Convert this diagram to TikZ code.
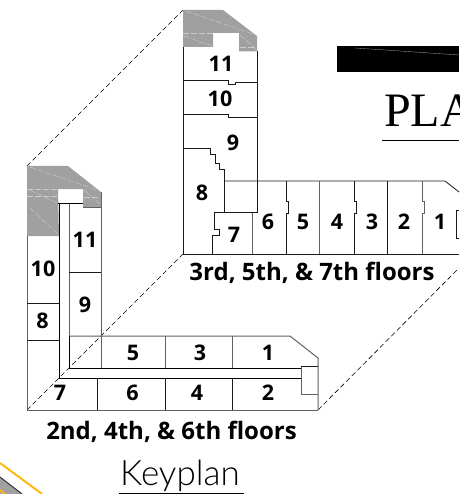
\documentclass[tikz,border=0pt]{standalone}
\usepackage{fontspec}
\setmainfont{Open Sans}
\newfontfamily\serifplan{Liberation Serif}
\newfontfamily\keyplan{Lato}[UprightFont=* Light]
\usepackage{tikz}
\usetikzlibrary{positioning}
\definecolor{roof}{HTML}{A0A0A0}
\definecolor{amber}{HTML}{FDB813}
\tikzstyle{wall}=[draw=black!90, line width=0.8pt]
\tikzstyle{gwall}=[draw=black!62, line width=1pt]
\tikzstyle{bwall}=[draw=black, line width=0.8pt]
\tikzstyle{guide}=[draw=black, line width=0.6pt, dash pattern=on 5pt off 3pt]
\tikzstyle{roofline}=[draw=white!45!roof, line width=0.4pt, dash pattern=on 6pt off 2pt]
\tikzstyle{unit}=[font=\bfseries\fontsize{21.5}{21}\selectfont, inner sep=0pt]
\tikzstyle{caption}=[font=\bfseries\fontsize{24}{24}\selectfont, inner sep=0pt]

\begin{document}
\begin{tikzpicture}[x=1pt,y=-1pt]
  \useasboundingbox (0,0) rectangle (459,494);
%
  \coordinate (la) at (27,166);
  \coordinate (lb) at (27,410);
  \coordinate (lc) at (318,410);
  \coordinate (ua) at (183,10);
  \coordinate (ub) at (183,254);
  \coordinate (uc) at (459,268);
%
  \path[guide] (la) -- (ua);
  \path[guide] (lb) -- (ub);
  \path[guide] (lc) -- (uc);
%
  % lower plan
  \fill[roof] (27,166) -- (68,166) -- (101,192) -- (101,207) -- (83,207) -- (83,189)
    -- (58,189) -- (59,236) -- (27,236) -- cycle;
  \path[roofline] (30,167) -- (100,191);
  \path[roofline] (27,189) -- (58,189);
  \path[roofline] (27,196) -- (58,196);
  \path[roofline] (30,190) -- (57,203);
  \path[roofline] (30,208) -- (58,234);
  \path[roofline] (84,190) -- (100,204);
  \path[roofline] (84,197) -- (100,197);
%
  \path[gwall] (27,236) -- (27,410);
  \path[gwall] (318,410) -- (318,358) -- (290,336) -- (69,336);
  \path[gwall] (27,410) -- (318,410);
  \path[bwall] (59.5,203) -- (59.5,378) -- (301,378);
  \path[gwall] (69,203) -- (69,336);
  \path[bwall] (69,336) -- (69,368) -- (301,368);
  \path[gwall] (101,192) -- (101,368);
  \path[bwall] (58,203) -- (83,203);
  \path[gwall] (83,207) -- (101,207);
  \path[wall] (27,303) -- (59,303);
  \path[wall] (27,340) -- (59,340);
  \path[wall] (69,272) -- (101,272);
  \path[gwall] (165,336) -- (165,368);
  \path[gwall] (232,336) -- (232,368);
  \path[wall] (97,378) -- (97,410);
  \path[wall] (165,378) -- (165,410);
  \path[wall] (232,378) -- (232,410);
  \path[wall] (301,366.5) -- (318,366.5);
  \path[gwall] (301,366.5) -- (301,394) -- (318,394);
%
  % upper plan
  \fill[roof] (183,10) -- (223,10) -- (257,36) -- (257,51.5) -- (239,51.5) -- (239,33)
    -- (213,33) -- (213,47) -- (183,47) -- cycle;
  \path[roofline] (186,11) -- (256,35);
  \path[roofline] (183,33) -- (213,33);
  \path[roofline] (184,36) -- (212,46);
  \path[roofline] (240,35) -- (256,49);
  \path[roofline] (240,47) -- (256,47);
%
  \path[wall] (183,47) -- (183,254) -- (459,254);
  \path[wall] (257,51) -- (257,212.5);
  \path[wall] (224.5,181) -- (445,181) -- (459,192);
  \path[wall] (183,80) -- (228,80) -- (228,84.5) -- (235.5,84.5) -- (235.5,82.5) -- (257,82.5);
  \path[wall] (183,114.5) -- (228,114.5) -- (228,117.5) -- (257,117.5);
  \path[wall] (183,148) -- (210.7,148) -- (210.7,154) -- (215.7,154) -- (215.7,163)
    -- (219.3,163) -- (219.3,169) -- (224.5,169) -- (224.5,212.5);
  \path[wall] (257,212.5) -- (214,212.5) -- (214,229) -- (219.7,229) -- (219.7,235.3)
    -- (212,235.3) -- (212,254);
  \path[gwall] (252.3,212.5) -- (252.3,254);
  \path[wall] (286.5,181) -- (286.5,201.7) -- (288.7,201.7) -- (288.7,213) -- (286.5,213) -- (286.5,254);
  \path[gwall] (319.7,181) -- (319.7,254);
  \path[wall] (354.5,181) -- (354.5,201.7) -- (356.5,201.7) -- (356.5,213) -- (354.5,213) -- (354.5,254);
  \path[wall] (387.7,181) -- (387.7,254);
  \path[gwall] (422,181) -- (422,201.7) -- (424.2,201.7) -- (424.2,213) -- (422,213) -- (422,254);
  \path[wall] (459,210.5) -- (456.7,210.5) -- (456.7,238) -- (459,238);
%
  % units, lower plan
  \node[unit] (lu11) at (85,240) {11};
  \node[unit] (lu10) at (43,268.5) {10};
  \node[unit] (lu9) at (85,305) {9};
  \node[unit] (lu8) at (42.5,321) {8};
  \node[unit] (lu7) at (60,393) {7};
  \node[unit] (lu6) at (132.5,393) {6};
  \node[unit] (lu4) at (197,393) {4};
  \node[unit] (lu2) at (268,393) {2};
  \node[unit] (lu5) at (133,353) {5};
  \node[unit] (lu3) at (200,353) {3};
  \node[unit] (lu1) at (268,353) {1};
%
  % units, upper plan
  \node[unit] (uu11) at (221,63.5) {11};
  \node[unit] (uu10) at (220,99) {10};
  \node[unit] (uu9) at (233,143) {9};
  \node[unit] (uu8) at (202,193) {8};
  \node[unit] (uu7) at (234,234.5) {7};
  \node[unit] (uu6) at (268,222) {6};
  \node[unit] (uu5) at (303,222) {5};
  \node[unit] (uu4) at (337,222) {4};
  \node[unit] (uu3) at (372,222) {3};
  \node[unit] (uu2) at (404,222) {2};
  \node[unit] (uu1) at (440,222) {1};
%
  \node[caption] (upperfloors) at (312,272.5) {3rd, 5th, \& 7th floors};
  \node[caption] (lowerfloors) at (171.5,431.5) {2nd, 4th, \& 6th floors};
%
  % title block
  \fill[black] (337,46) rectangle (459,72);
  \draw[black!45, line width=0.4pt] (355,48) -- (459,55);
  \node[anchor=base west, inner sep=0pt, font=\serifplan\fontsize{48}{48}\selectfont] (plan) at (384,127) {PLA};
  \draw[black, line width=0.8pt] (382,140) -- (459,140);
%
  \node[anchor=base west, inner sep=0pt, font=\keyplan\fontsize{35}{35}\selectfont] (key) at (120,485) {Keyplan};
  \draw[black, line width=0.8pt] (119,493) -- (244,493);
%
  % corner of the site plan
  \fill[roof] (0,477) -- (22,494) -- (0,494) -- cycle;
  \draw[black!80, line width=1pt] (0,477) -- (22,494);
  \draw[amber, line width=2pt] (0,463) -- (42,494);
  \draw[amber, line width=2pt] (0,490) -- (5,494);
\end{tikzpicture}
\end{document}
